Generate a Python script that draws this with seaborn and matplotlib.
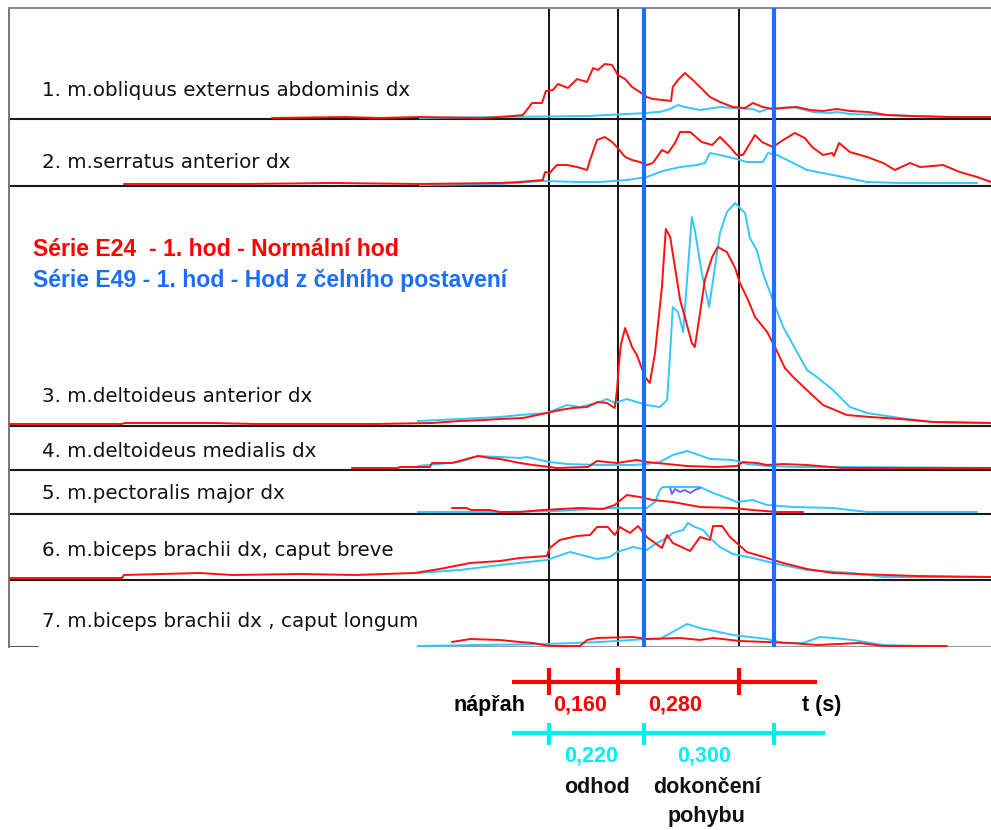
"""
EMG envelopes of seven shoulder / trunk muscles for two throws
(series E24 normal throw vs. series E49 throw from frontal stance),
with the phase boundaries of both throws marked and a phase timeline below.
"""
import matplotlib
matplotlib.use("Agg")
import matplotlib.pyplot as plt
import seaborn as sns

sns.set_style("white")
plt.rcParams['font.family'] = ['DejaVu Sans']

# phase durations in seconds
red_phases = [0.160, 0.280]
cyan_phases = [0.220, 0.300]
phase_names = ["nápřah", "odhod", "dokončení\npohybu"]

legend_red = "Série E24  - 1. hod - Normální hod"
legend_cyan = "Série E49 - 1. hod - Hod z čelního postavení"

muscles = ["1. m.obliquus externus abdominis dx",
           "2. m.serratus anterior dx",
           "3. m.deltoideus anterior dx",
           "4. m.deltoideus medialis dx",
           "5. m.pectoralis major dx",
           "6. m.biceps brachii dx, caput breve",
           "7. m.biceps brachii dx , caput longum"]

# time in ms from start of the throw, amplitude in relative units
p1_red_t = [-640, -470, -390, -300, -150, -83, -60, -39, -16, -7, 9, 21, 44,
            65, 88, 102, 113, 129, 146, 159, 176, 192, 210, 226, 240, 263,
            282, 286, 298, 314, 330, 349, 372, 395, 425, 453, 471, 494, 517,
            541, 573, 603, 633, 665, 695, 737, 781, 834, 926, 1021]
p1_red_v = [1, 2, 1, 2, 1, 3, 4, 16, 16, 28, 29, 35, 31, 40, 37, 51, 49, 55,
            54, 44, 40, 32, 27, 22, 20, 19, 18, 32, 39, 46, 40, 32, 22, 17, 12,
            11, 16, 12, 10, 11, 12, 9, 8, 10, 8, 7, 4, 3, 2, 2]
p1_cyan_t = [-298, -113, 90, 180, 226, 249, 256, 280, 298, 314, 349, 395,
             425, 471, 487, 504, 564, 610, 649, 665, 695, 772, 926, 1021]
p1_cyan_v = [1, 2, 3, 5, 6, 7, 7, 10, 14, 12, 9, 12, 11, 10, 7, 10, 12, 7, 6,
             7, 5, 4, 2, 2]

p2_red_t = [-982, -700, -500, -300, -113, -67, -14, -9, 2, 18, 42, 65, 88, 95,
            111, 129, 146, 159, 176, 192, 210, 226, 240, 261, 275, 291, 303,
            326, 353, 377, 395, 418, 434, 448, 476, 492, 517, 541, 568, 591,
            608, 633, 654, 658, 670, 695, 735, 772, 799, 834, 857, 887, 910,
            949, 989, 1021]
p2_red_v = [2, 2, 3, 2, 3, 4, 6, 14, 13, 21, 21, 19, 16, 26, 46, 49, 44, 38,
            29, 26, 24, 21, 23, 36, 33, 43, 54, 54, 44, 41, 49, 39, 31, 31, 51,
            44, 39, 46, 53, 48, 39, 31, 33, 30, 43, 34, 29, 23, 16, 23, 19, 20,
            21, 14, 9, 4]
p2_cyan_t = [-298, -113, -14, 72, 118, 180, 226, 263, 303, 342, 360, 372, 395,
             425, 457, 494, 506, 527, 564, 596, 656, 735, 811, 989]
p2_cyan_v = [1, 2, 5, 4, 4, 6, 9, 15, 19, 21, 23, 33, 31, 28, 24, 24, 33, 31,
             23, 16, 11, 4, 3, 3]

p3_red_t = [-1247, -986, -980, -776, -679, -400, -270, -206, -150, -113, -60,
            -5, 25, 55, 88, 113, 134, 152, 157, 162, 166, 176, 192, 203, 222,
            233, 245, 261, 270, 280, 291, 303, 314, 330, 337, 349, 360, 377,
            390, 411, 430, 441, 460, 476, 504, 522, 545, 564, 603, 633, 688,
            742, 811, 887, 1021]
p3_red_v = [2, 2, 3, 3, 2, 2, 3, 5, 6, 7, 8, 13, 16, 18, 19, 24, 23, 18, 35,
            63, 81, 98, 79, 71, 49, 43, 73, 139, 197, 189, 159, 126, 109, 83,
            79, 113, 146, 169, 179, 174, 158, 143, 126, 109, 94, 79, 58, 49,
            33, 21, 11, 9, 7, 4, 3]
p3_cyan_t = [-303, -206, -113, -67, -5, 42, 72, 118, 134, 152, 180, 226, 256,
             273, 280, 286, 298, 310, 319, 330, 337, 353, 370, 379, 395, 411,
             430, 453, 464, 480, 494, 517, 541, 564, 596, 619, 656, 695, 735,
             811, 887, 1021]
p3_cyan_v = [5, 7, 9, 11, 13, 21, 19, 24, 27, 23, 27, 21, 19, 26, 73, 119, 114,
             94, 146, 209, 196, 153, 119, 146, 193, 214, 223, 213, 188, 176,
             153, 126, 99, 81, 56, 49, 36, 19, 13, 8, 4, 3]

p4_red_t = [-455, -348, -344, -275, -270, -224, -164, -136, -113, -67, -37, 2,
            18, 90, 111, 157, 203, 226, 273, 319, 388, 434, 448, 480, 504, 541,
            596, 679, 1021]
p4_red_v = [2, 2, 3, 3, 7, 7, 14, 12, 11, 7, 5, 3, 2, 3, 9, 7, 10, 8, 6, 4, 3,
            4, 8, 7, 5, 6, 5, 2, 2]
p4_cyan_t = [-303, -206, -164, -113, -67, -51, 2, 42, 118, 194, 226, 256, 286,
             319, 333, 372, 425, 457, 504, 580, 695, 1021]
p4_cyan_v = [4, 8, 14, 13, 12, 13, 8, 6, 5, 5, 6, 8, 15, 19, 17, 11, 10, 6, 4,
             3, 3, 2]

p5_red_t = [-224, -190, -180, -136, -113, -67, -14, 72, 125, 152, 180, 210,
            240, 286, 349, 425, 471, 527, 587]
p5_red_v = [6, 6, 4, 4, 2, 2, 4, 6, 5, 9, 19, 17, 14, 12, 7, 6, 4, 2, 2]
p5_cyan_t = [-303, -113, 18, 148, 226, 245, 256, 263, 349, 379, 411, 434, 471,
             504, 564, 656, 735, 989]
p5_cyan_v = [2, 2, 3, 6, 6, 12, 24, 27, 27, 21, 16, 12, 14, 9, 7, 6, 2, 2]
# short artefact in the E49 pectoralis trace
p5_art_t = [280, 284, 291, 303, 314, 326, 337, 349]
p5_art_v = [26, 20, 25, 22, 24, 21, 24, 26]

p6_red_t = [-1247, -986, -982, -806, -732, -575, -448, -310, -252, -182, -113,
            -67, -5, 2, 25, 65, 95, 111, 136, 152, 164, 187, 206, 226, 245,
            261, 273, 286, 326, 349, 372, 379, 400, 418, 434, 457, 504, 541,
            596, 656, 711, 850, 1021]
p6_red_v = [2, 2, 5, 7, 5, 6, 5, 7, 11, 17, 19, 22, 24, 32, 40, 44, 45, 53, 53,
            45, 53, 47, 54, 43, 37, 32, 45, 37, 29, 43, 40, 54, 54, 43, 37, 28,
            22, 17, 11, 7, 6, 4, 3]
p6_cyan_t = [-303, -206, -113, -5, 49, 111, 141, 157, 194, 226, 249, 273, 286,
             310, 321, 337, 356, 372, 395, 425, 471, 517, 596, 702, 772, 1021]
p6_cyan_v = [7, 10, 15, 20, 28, 21, 23, 28, 33, 30, 37, 42, 47, 50, 57, 53, 50,
             42, 33, 26, 22, 17, 10, 7, 3, 3]

p7_red_t = [-224, -182, -113, -67, -37, 2, 72, 88, 111, 194, 226, 303, 349,
            379, 441, 504, 557, 619, 718, 772, 919]
p7_red_v = [5, 8, 7, 5, 4, 1, 1, 7, 9, 10, 8, 9, 7, 9, 6, 5, 4, 2, 4, 1, 1]
p7_cyan_t = [-303, -164, -5, 118, 226, 256, 319, 349, 425, 504, 541, 587, 626,
             656, 702, 772, 857]
p7_cyan_v = [1, 2, 3, 5, 8, 8, 23, 19, 12, 8, 4, 4, 10, 9, 7, 2, 1]

red_series = [(p1_red_t, p1_red_v), (p2_red_t, p2_red_v), (p3_red_t, p3_red_v),
              (p4_red_t, p4_red_v), (p5_red_t, p5_red_v), (p6_red_t, p6_red_v),
              (p7_red_t, p7_red_v)]
cyan_series = [(p1_cyan_t, p1_cyan_v), (p2_cyan_t, p2_cyan_v),
               (p3_cyan_t, p3_cyan_v), (p4_cyan_t, p4_cyan_v),
               (p5_cyan_t, p5_cyan_v), (p6_cyan_t, p6_cyan_v),
               (p7_cyan_t, p7_cyan_v)]

RED = "#ff1010"
CYAN = "#36c6ff"
BLUE = "#1a6fff"
TL_CYAN = "#00f0f0"
W, H = 991, 830
XLIM = (-1247, 1021)


def cumulative_ms(phases):
    out = [0]
    for d in phases:
        out.append(out[-1] + d * 1000)
    return out


red_events = cumulative_ms(red_phases)
cyan_events = cumulative_ms(cyan_phases)

fig = plt.figure(figsize=(W / 100, H / 100), dpi=100)

# panel edges in pixels from the top, and label centres
edges = [8, 119, 186, 426, 470, 514, 580, 647]
label_y = [91, 162, 396, 451, 493, 551, 621]

for i, name in enumerate(muscles):
    top, bottom = edges[i], edges[i + 1]
    ax = fig.add_axes([9 / W, 1 - bottom / H, (W - 9) / W, (bottom - top) / H])
    ax.set_xlim(*XLIM)
    ax.set_ylim(0, bottom - top)
    ax.set_xticks([])
    ax.set_yticks([])
    ax.patch.set_alpha(0)
    for t in red_events:
        ax.axvline(t, color="black", lw=1.3, zorder=1)
    for t in cyan_events[1:]:
        ax.axvline(t, color=BLUE, lw=3.0, zorder=4)
    rt, rv = red_series[i]
    ct, cv = cyan_series[i]
    sns.lineplot(x=ct, y=cv, ax=ax, color=CYAN, lw=1.4, estimator=None,
                 legend=False, zorder=3)
    sns.lineplot(x=rt, y=rv, ax=ax, color=RED, lw=1.4, estimator=None,
                 legend=False, zorder=3)
    if i == 4:
        sns.lineplot(x=p5_art_t, y=p5_art_v, ax=ax, color="#6a5cff", lw=1.3,
                     estimator=None, legend=False, zorder=3)
    ax.set_xlabel("")
    ax.set_ylabel("")
    ax.spines["right"].set_visible(False)
    ax.spines["left"].set_color("#777777")
    ax.spines["left"].set_linewidth(1.4)
    ax.spines["top"].set_visible(i == 0)
    ax.spines["top"].set_color("#8a8a8a")
    ax.spines["top"].set_linewidth(1.4)
    if i < 6:
        ax.spines["bottom"].set_color("#1a1a1a")
        ax.spines["bottom"].set_linewidth(1.5)
    else:
        ax.spines["bottom"].set_visible(False)
        ax.axhline(0, xmin=0, xmax=0.03, color="#555555", lw=1.5)
        ax.axhline(0, xmin=0.418, xmax=1, color="#999999", lw=1.5)
    fig.text(42 / W, 1 - label_y[i] / H, name, fontsize=14.3, color="#111111",
             va="center", ha="left")

fig.text(33 / W, 1 - 249 / H, legend_red, color="red", fontsize=16.6,
         fontweight="bold", family="Liberation Sans", va="center")
fig.text(33 / W, 1 - 281 / H, legend_cyan, color=BLUE, fontsize=16.6,
         fontweight="bold", family="Liberation Sans", va="center")

# phase timeline under the chart
tl = fig.add_axes([9 / W, 0, (W - 9) / W, 180 / H])
tl.set_xlim(*XLIM)
tl.set_ylim(180, 0)
tl.axis("off")
tl.plot([-85, 620], [32, 32], color="red", lw=3, solid_capstyle="butt")
tl.vlines(red_events, 18, 45, color="red", lw=3)
tl.plot([-85, 638], [83, 83], color=TL_CYAN, lw=3, solid_capstyle="butt")
tl.vlines(cyan_events, 73, 95, color=TL_CYAN, lw=3)

tfont = dict(fontsize=15.5, fontweight="bold", family="Liberation Sans",
             va="center")
for a, b, d in zip(red_events[:-1], red_events[1:], red_phases):
    tl.text((a + b) / 2 - 8, 55, f"{d:.3f}".replace(".", ","), color="red",
            ha="center", **tfont)
for a, b, d in zip(cyan_events[:-1], cyan_events[1:], cyan_phases):
    tl.text((a + b) / 2 - 12, 106, f"{d:.3f}".replace(".", ","),
            color=TL_CYAN, ha="center", **tfont)
tl.text(-55, 55, phase_names[0], color="black", ha="right", **tfont)
tl.text((cyan_events[0] + cyan_events[1]) / 2, 137, phase_names[1],
        color="#111111", ha="center", **tfont)
tl.text((cyan_events[1] + cyan_events[2]) / 2 - 5, 152, phase_names[2],
        color="#111111", ha="center", linespacing=1.45, **tfont)
tl.text(631, 55, "t (s)", color="black", ha="center", **tfont)

fig.savefig("out.png", dpi=100)
